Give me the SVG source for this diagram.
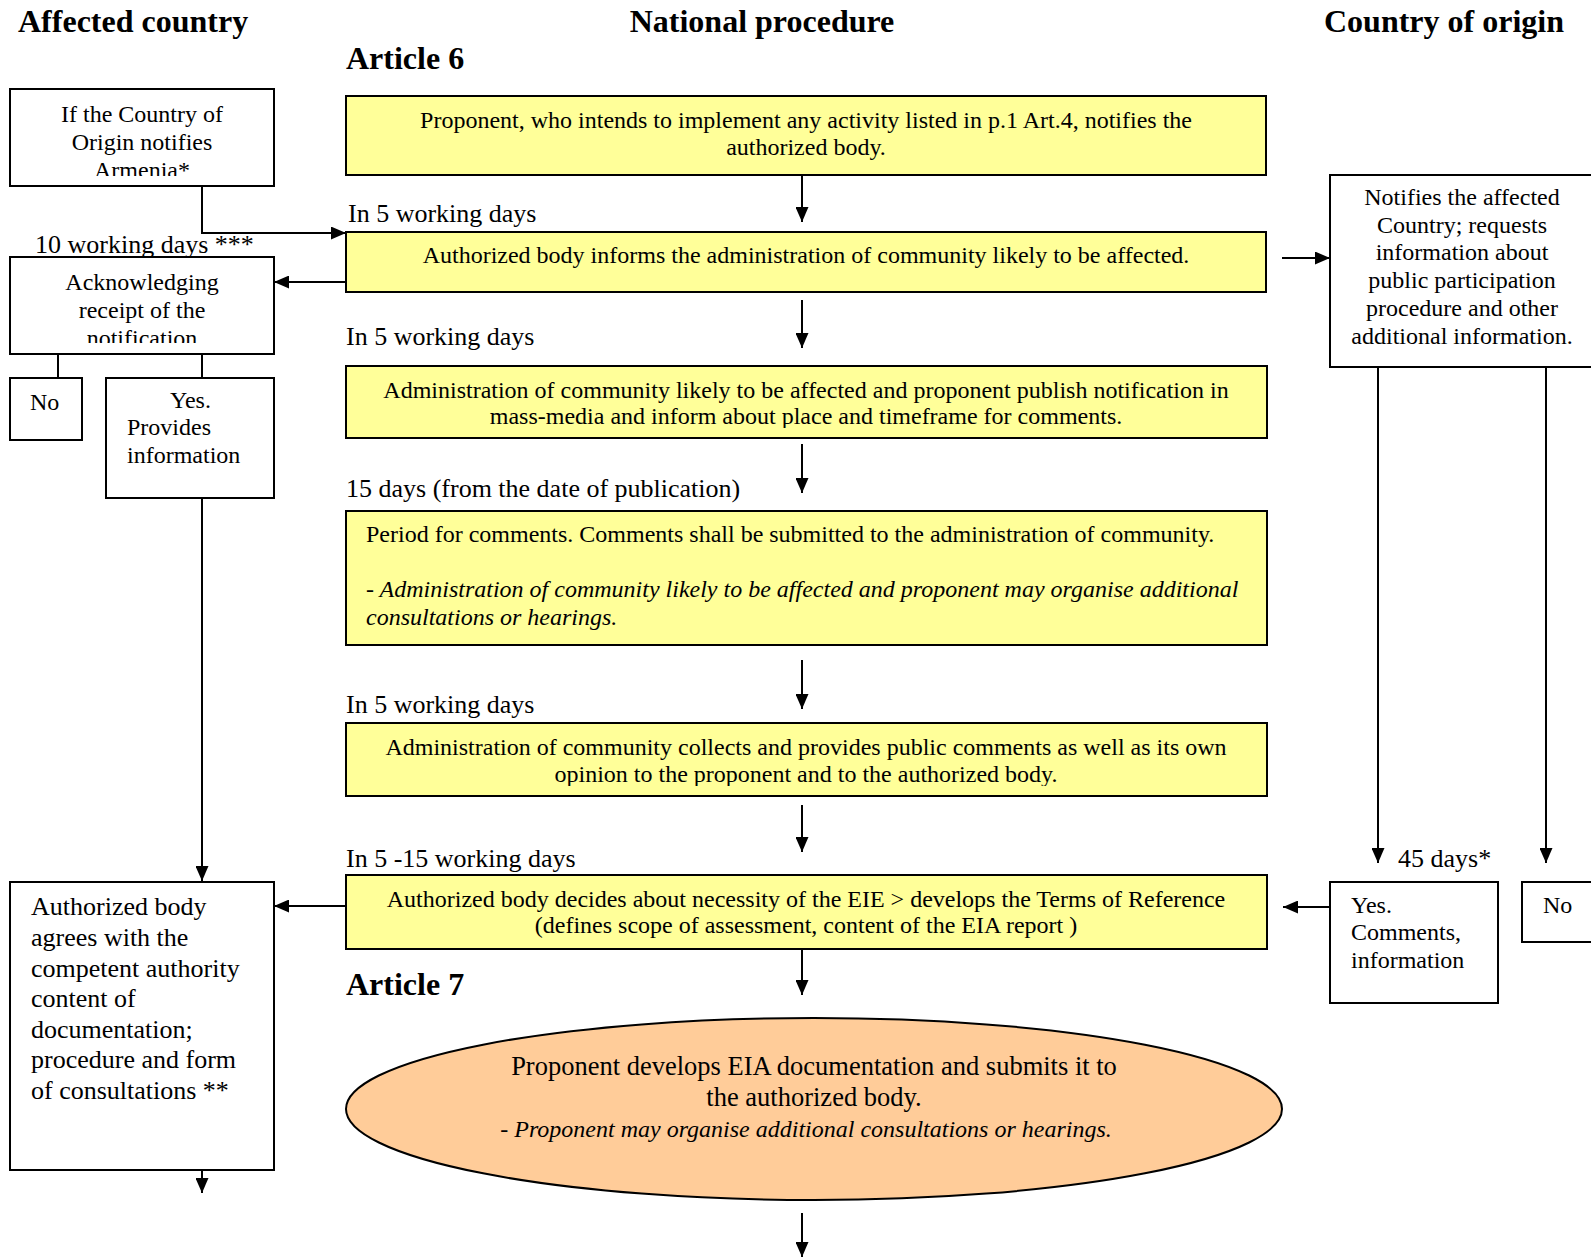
<svg xmlns="http://www.w3.org/2000/svg" width="1591" height="1259" viewBox="0 0 1591 1259">
<style>
text{font-family:"Liberation Serif","Times New Roman",serif;fill:#000}
.h{font-size:32px;font-weight:bold}
.t{font-size:24px}
.l{font-size:26px}
.c{text-anchor:middle}
.i{font-style:italic}
.box{fill:#fff;stroke:#000;stroke-width:2}
.yb{fill:#ffff99;stroke:#000;stroke-width:2}
.el{fill:#ffcc99;stroke:#000;stroke-width:2}
.cn{fill:none;stroke:#000;stroke-width:2}
</style>
<defs>
<marker id="ah" viewBox="0 0 15 13" refX="15" refY="6.5" markerWidth="15" markerHeight="13" markerUnits="userSpaceOnUse" orient="auto">
<path d="M0,0 L15,6.5 L0,13 z" fill="#000"/>
</marker>
<clipPath id="cA"><rect x="9" y="89" width="265" height="87"/></clipPath>
<clipPath id="cB"><rect x="9" y="257" width="265" height="86"/></clipPath>
<clipPath id="c3"><rect x="346" y="366" width="921" height="62"/></clipPath>
<clipPath id="c5"><rect x="346" y="723" width="921" height="63"/></clipPath>
</defs>

<g id="titles">
<text class="h" x="18" y="32">Affected country</text>
<text class="h c" x="762" y="32">National procedure</text>
<text class="h" x="1324" y="32">Country of origin</text>
<text class="h" x="346" y="69">Article 6</text>
<text class="h" x="346" y="995">Article 7</text>
</g>

<g id="labels">
<text class="l" x="348" y="222">In 5 working days</text>
<text class="l" x="35" y="253">10 working days ***</text>
<text class="l" x="346" y="345">In 5 working days</text>
<text class="l" x="346" y="497">15 days (from the date of publication)</text>
<text class="l" x="346" y="713">In 5 working days</text>
<text class="l" x="346" y="867">In 5 -15 working days</text>
<text class="l" x="1398" y="867">45 days*</text>
</g>

<g id="connectors">
<path class="cn" d="M202,186 V233 H346" marker-end="url(#ah)"/>
<path class="cn" d="M802,175 V222" marker-end="url(#ah)"/>
<path class="cn" d="M346,282 H274" marker-end="url(#ah)"/>
<path class="cn" d="M1282,258 H1330" marker-end="url(#ah)"/>
<path class="cn" d="M58,354 V378"/>
<path class="cn" d="M202,354 V378"/>
<path class="cn" d="M202,498 V881" marker-end="url(#ah)"/>
<path class="cn" d="M802,300 V348" marker-end="url(#ah)"/>
<path class="cn" d="M802,444 V493" marker-end="url(#ah)"/>
<path class="cn" d="M802,660 V709" marker-end="url(#ah)"/>
<path class="cn" d="M802,805 V852" marker-end="url(#ah)"/>
<path class="cn" d="M346,906 H274" marker-end="url(#ah)"/>
<path class="cn" d="M1378,367 V863" marker-end="url(#ah)"/>
<path class="cn" d="M1546,367 V863" marker-end="url(#ah)"/>
<path class="cn" d="M1330,907 H1283" marker-end="url(#ah)"/>
<path class="cn" d="M802,949 V995" marker-end="url(#ah)"/>
<path class="cn" d="M202,1170 V1193" marker-end="url(#ah)"/>
<path class="cn" d="M802,1213 V1257" marker-end="url(#ah)"/>
</g>

<g id="nodeA">
<rect class="box" x="10" y="89" width="264" height="97"/>
<g clip-path="url(#cA)">
<text class="t c" x="142" y="122">If the Country of</text>
<text class="t c" x="142" y="150">Origin notifies</text>
<text class="t c" x="142" y="178">Armenia*</text>
</g>
</g>

<g id="nodeB">
<rect class="box" x="10" y="257" width="264" height="97"/>
<g clip-path="url(#cB)">
<text class="t c" x="142" y="290">Acknowledging</text>
<text class="t c" x="142" y="318">receipt of the</text>
<text class="t c" x="142" y="346">notification</text>
</g>
</g>

<g id="nodeNoL">
<rect class="box" x="10" y="378" width="72" height="62"/>
<text class="t" x="30" y="410">No</text>
</g>

<g id="nodeYesL">
<rect class="box" x="106" y="378" width="168" height="120"/>
<text class="t" x="170" y="408">Yes.</text>
<text class="t" x="127" y="435">Provides</text>
<text class="t" x="127" y="463">information</text>
</g>

<g id="nodeAgrees">
<rect class="box" x="10" y="882" width="264" height="288"/>
<text class="l" x="31" y="915">Authorized body</text>
<text class="l" x="31" y="946">agrees with the</text>
<text class="l" x="31" y="977">competent authority</text>
<text class="l" x="31" y="1007">content of</text>
<text class="l" x="31" y="1038">documentation;</text>
<text class="l" x="31" y="1068">procedure and form</text>
<text class="l" x="31" y="1099">of consultations **</text>
</g>

<g id="node1">
<rect class="yb" x="346" y="96" width="920" height="79"/>
<text class="t c" x="806" y="128">Proponent, who intends to implement any activity listed in p.1 Art.4, notifies the</text>
<text class="t c" x="806" y="155">authorized body.</text>
</g>

<g id="node2">
<rect class="yb" x="346" y="232" width="920" height="60"/>
<text class="t c" x="806" y="263">Authorized body informs the administration of community likely to be affected.</text>
</g>

<g id="node3">
<rect class="yb" x="346" y="366" width="921" height="72"/>
<g clip-path="url(#c3)">
<text class="t c" x="806" y="398">Administration of community likely to be affected and proponent publish notification in</text>
<text class="t c" x="806" y="424">mass-media and inform about place and timeframe for comments.</text>
</g>
</g>

<g id="node4">
<rect class="yb" x="346" y="511" width="921" height="134"/>
<text class="t" x="366" y="542">Period for comments. Comments shall be submitted to the administration of community.</text>
<text class="t i" x="366" y="597">- Administration of community likely to be affected and proponent may organise additional</text>
<text class="t i" x="366" y="625">consultations or hearings.</text>
</g>

<g id="node5">
<rect class="yb" x="346" y="723" width="921" height="73"/>
<g clip-path="url(#c5)">
<text class="t c" x="806" y="755">Administration of community collects and provides public comments as well as its own</text>
<text class="t c" x="806" y="782">opinion to the proponent and to the authorized body.</text>
</g>
</g>

<g id="node6">
<rect class="yb" x="346" y="875" width="921" height="74"/>
<text class="t c" x="806" y="907">Authorized body decides about necessity of the EIE &gt; develops the Terms of Reference</text>
<text class="t c" x="806" y="933">(defines scope of assessment, content of the EIA report )</text>
</g>

<g id="nodeEllipse">
<ellipse class="el" cx="814" cy="1109" rx="468" ry="91"/>
<text class="c" style="font-size:26.5px" x="814" y="1075">Proponent develops EIA documentation and submits it to</text>
<text class="c" style="font-size:26.5px" x="814" y="1106">the authorized body.</text>
<text class="t c i" x="806" y="1137">- Proponent may organise additional consultations or hearings.</text>
</g>

<g id="nodeNotifies">
<rect class="box" x="1330" y="175" width="264" height="192"/>
<text class="t c" x="1462" y="205">Notifies the affected</text>
<text class="t c" x="1462" y="233">Country; requests</text>
<text class="t c" x="1462" y="260">information about</text>
<text class="t c" x="1462" y="288">public participation</text>
<text class="t c" x="1462" y="316">procedure and other</text>
<text class="t c" x="1462" y="344">additional information.</text>
</g>

<g id="nodeYesR">
<rect class="box" x="1330" y="882" width="168" height="121"/>
<text class="t" x="1351" y="913">Yes.</text>
<text class="t" x="1351" y="940">Comments,</text>
<text class="t" x="1351" y="968">information</text>
</g>

<g id="nodeNoR">
<rect class="box" x="1522" y="882" width="72" height="60"/>
<text class="t" x="1543" y="913">No</text>
</g>
</svg>
